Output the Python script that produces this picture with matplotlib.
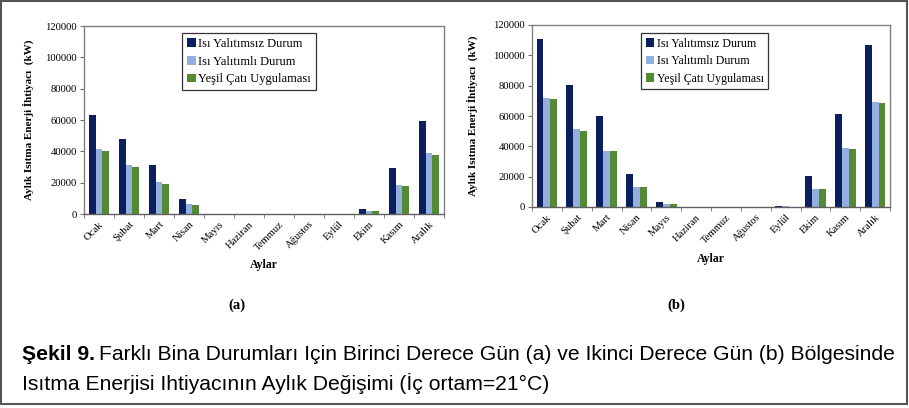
import numpy as np
import matplotlib.pyplot as plt
from matplotlib.patches import Rectangle

# datos
aylar = ["Ocak", "Şubat", "Mart", "Nisan", "Mayıs", "Haziran", "Temmuz",
         "Ağustos", "Eylül", "Ekim", "Kasım", "Aralık"]
seriler = ["Isı Yalıtımsız Durum", "Isı Yalıtımlı Durum", "Yeşil Çatı Uygulaması"]

# (a) birinci derece gün bölgesi
a_yalitimsiz = [63400, 48100, 31500, 9800, 0, 0, 0, 0, 0, 3400, 29600, 59400]
a_yalitimli = [41700, 31100, 20200, 6200, 0, 0, 0, 0, 0, 1900, 18700, 39100]
a_yesil = [40400, 30000, 19400, 5700, 0, 0, 0, 0, 0, 1700, 18100, 37700]

# (b) ikinci derece gün bölgesi
b_yalitimsiz = [110600, 80600, 59900, 22000, 3300, 0, 0, 0, 900, 20300, 61200, 106800]
b_yalitimli = [71600, 51100, 37000, 13400, 2200, 0, 0, 0, 400, 12100, 38800, 69200]
b_yesil = [70900, 50400, 36800, 13000, 1800, 0, 0, 0, 300, 11900, 38100, 68700]

renkler = ["#0b1f5e", "#93afe0", "#548a34"]
serif = ["Liberation Serif", "DejaVu Serif"]

W, H = 909, 408
fig = plt.figure(figsize=(W / 100, H / 100), dpi=100)


def px(x0, y0, x1, y1):
    return [x0 / W, 1 - y1 / H, (x1 - x0) / W, (y1 - y0) / H]


def grafik(rect, veriler, leg_rect, leg_fs, ylab_x, xlab_y):
    ax = fig.add_axes(px(*rect))
    x = np.arange(len(aylar))
    w = 0.23
    for i, (v, c) in enumerate(zip(veriler, renkler)):
        ax.bar(x + (i - 1) * w, v, w, color=c, label=seriler[i], linewidth=0)
    ax.set_xlim(-0.5, len(aylar) - 0.5)
    ax.set_ylim(0, 120000)
    ax.set_yticks(np.arange(0, 120001, 20000))
    ax.set_yticklabels([str(t) for t in range(0, 120001, 20000)],
                       fontfamily=serif, fontsize=7.7)
    ax.set_xticks(x)
    ax.set_xticklabels(aylar, rotation=45, ha="right", rotation_mode="anchor",
                       fontfamily=serif, fontsize=7.7)
    ax.tick_params(axis="x", length=0, pad=4)
    ax.set_xticks(np.arange(-0.5, len(aylar)), minor=True)
    ax.tick_params(axis="x", which="minor", length=3, color="#707070")
    ax.tick_params(axis="y", length=3, color="#707070", pad=2)
    for s in ax.spines.values():
        s.set_color("#808080")
        s.set_linewidth(1.0)
    ax.spines["bottom"].set_color("#606060")

    lx0, ly0, lx1, ly1 = leg_rect
    leg = ax.legend(loc="upper left", bbox_to_anchor=(
        (lx0 - rect[0]) / (rect[2] - rect[0]), 1 - (ly0 - rect[1]) / (rect[3] - rect[1])),
        prop={"family": serif, "size": leg_fs}, frameon=True, fancybox=False,
        edgecolor="black", handlelength=0.7, handleheight=0.7, handletextpad=0.2,
        labelspacing=0.45, borderpad=0.4, borderaxespad=0)
    leg.get_frame().set_linewidth(0.9)

    fig.text(ylab_x / W, 1 - ((rect[1] + rect[3]) / 2) / H,
             "Aylık Isıtma Enerji İhtiyacı  (kW)", rotation=90, ha="center",
             va="center", fontfamily=serif, fontsize=8, fontweight="bold")
    fig.text(((rect[0] + rect[2]) / 2) / W, 1 - xlab_y / H, "Aylar", ha="center",
             va="center", fontfamily=serif, fontsize=8.5, fontweight="bold")
    return ax


grafik((84, 26, 444, 214), [a_yalitimsiz, a_yalitimli, a_yesil],
       (182, 33, 322, 91), 9, 28, 265)
grafik((532, 25, 890, 207), [b_yalitimsiz, b_yalitimli, b_yesil],
       (641, 33, 769, 89), 8.6, 472, 259)

fig.text(237 / W, 1 - 305 / H, "(a)", ha="center", va="center",
         fontfamily=serif, fontsize=10.5, fontweight="bold")
fig.text(676 / W, 1 - 305 / H, "(b)", ha="center", va="center",
         fontfamily=serif, fontsize=10.5, fontweight="bold")

# alt yazı
sans = ["Liberation Sans", "DejaVu Sans"]
fs = 15.2
t1 = fig.text(22 / W, 1 - 355 / H, "Şekil 9.", ha="left", va="center",
              fontfamily=sans, fontsize=fs, fontweight="bold")
fig.canvas.draw()
bb = t1.get_window_extent()
fig.text((bb.x1 + 4) / W, 1 - 355 / H,
         "Farklı Bina Durumları Için Birinci Derece Gün (a) ve Ikinci Derece Gün (b) Bölgesinde",
         ha="left", va="center", fontfamily=sans, fontsize=fs)
fig.text(22 / W, 1 - 383 / H, "Isıtma Enerjisi Ihtiyacının Aylık Değişimi (İç ortam=21°C)",
         ha="left", va="center", fontfamily=sans, fontsize=fs)

# çerçeve
fig.patches.append(Rectangle((1 / W, 4 / H), (W - 3) / W, (H - 5) / H,
                             transform=fig.transFigure, fill=False,
                             edgecolor="#555555", linewidth=1.5))

plt.savefig("out.png", dpi=100)
